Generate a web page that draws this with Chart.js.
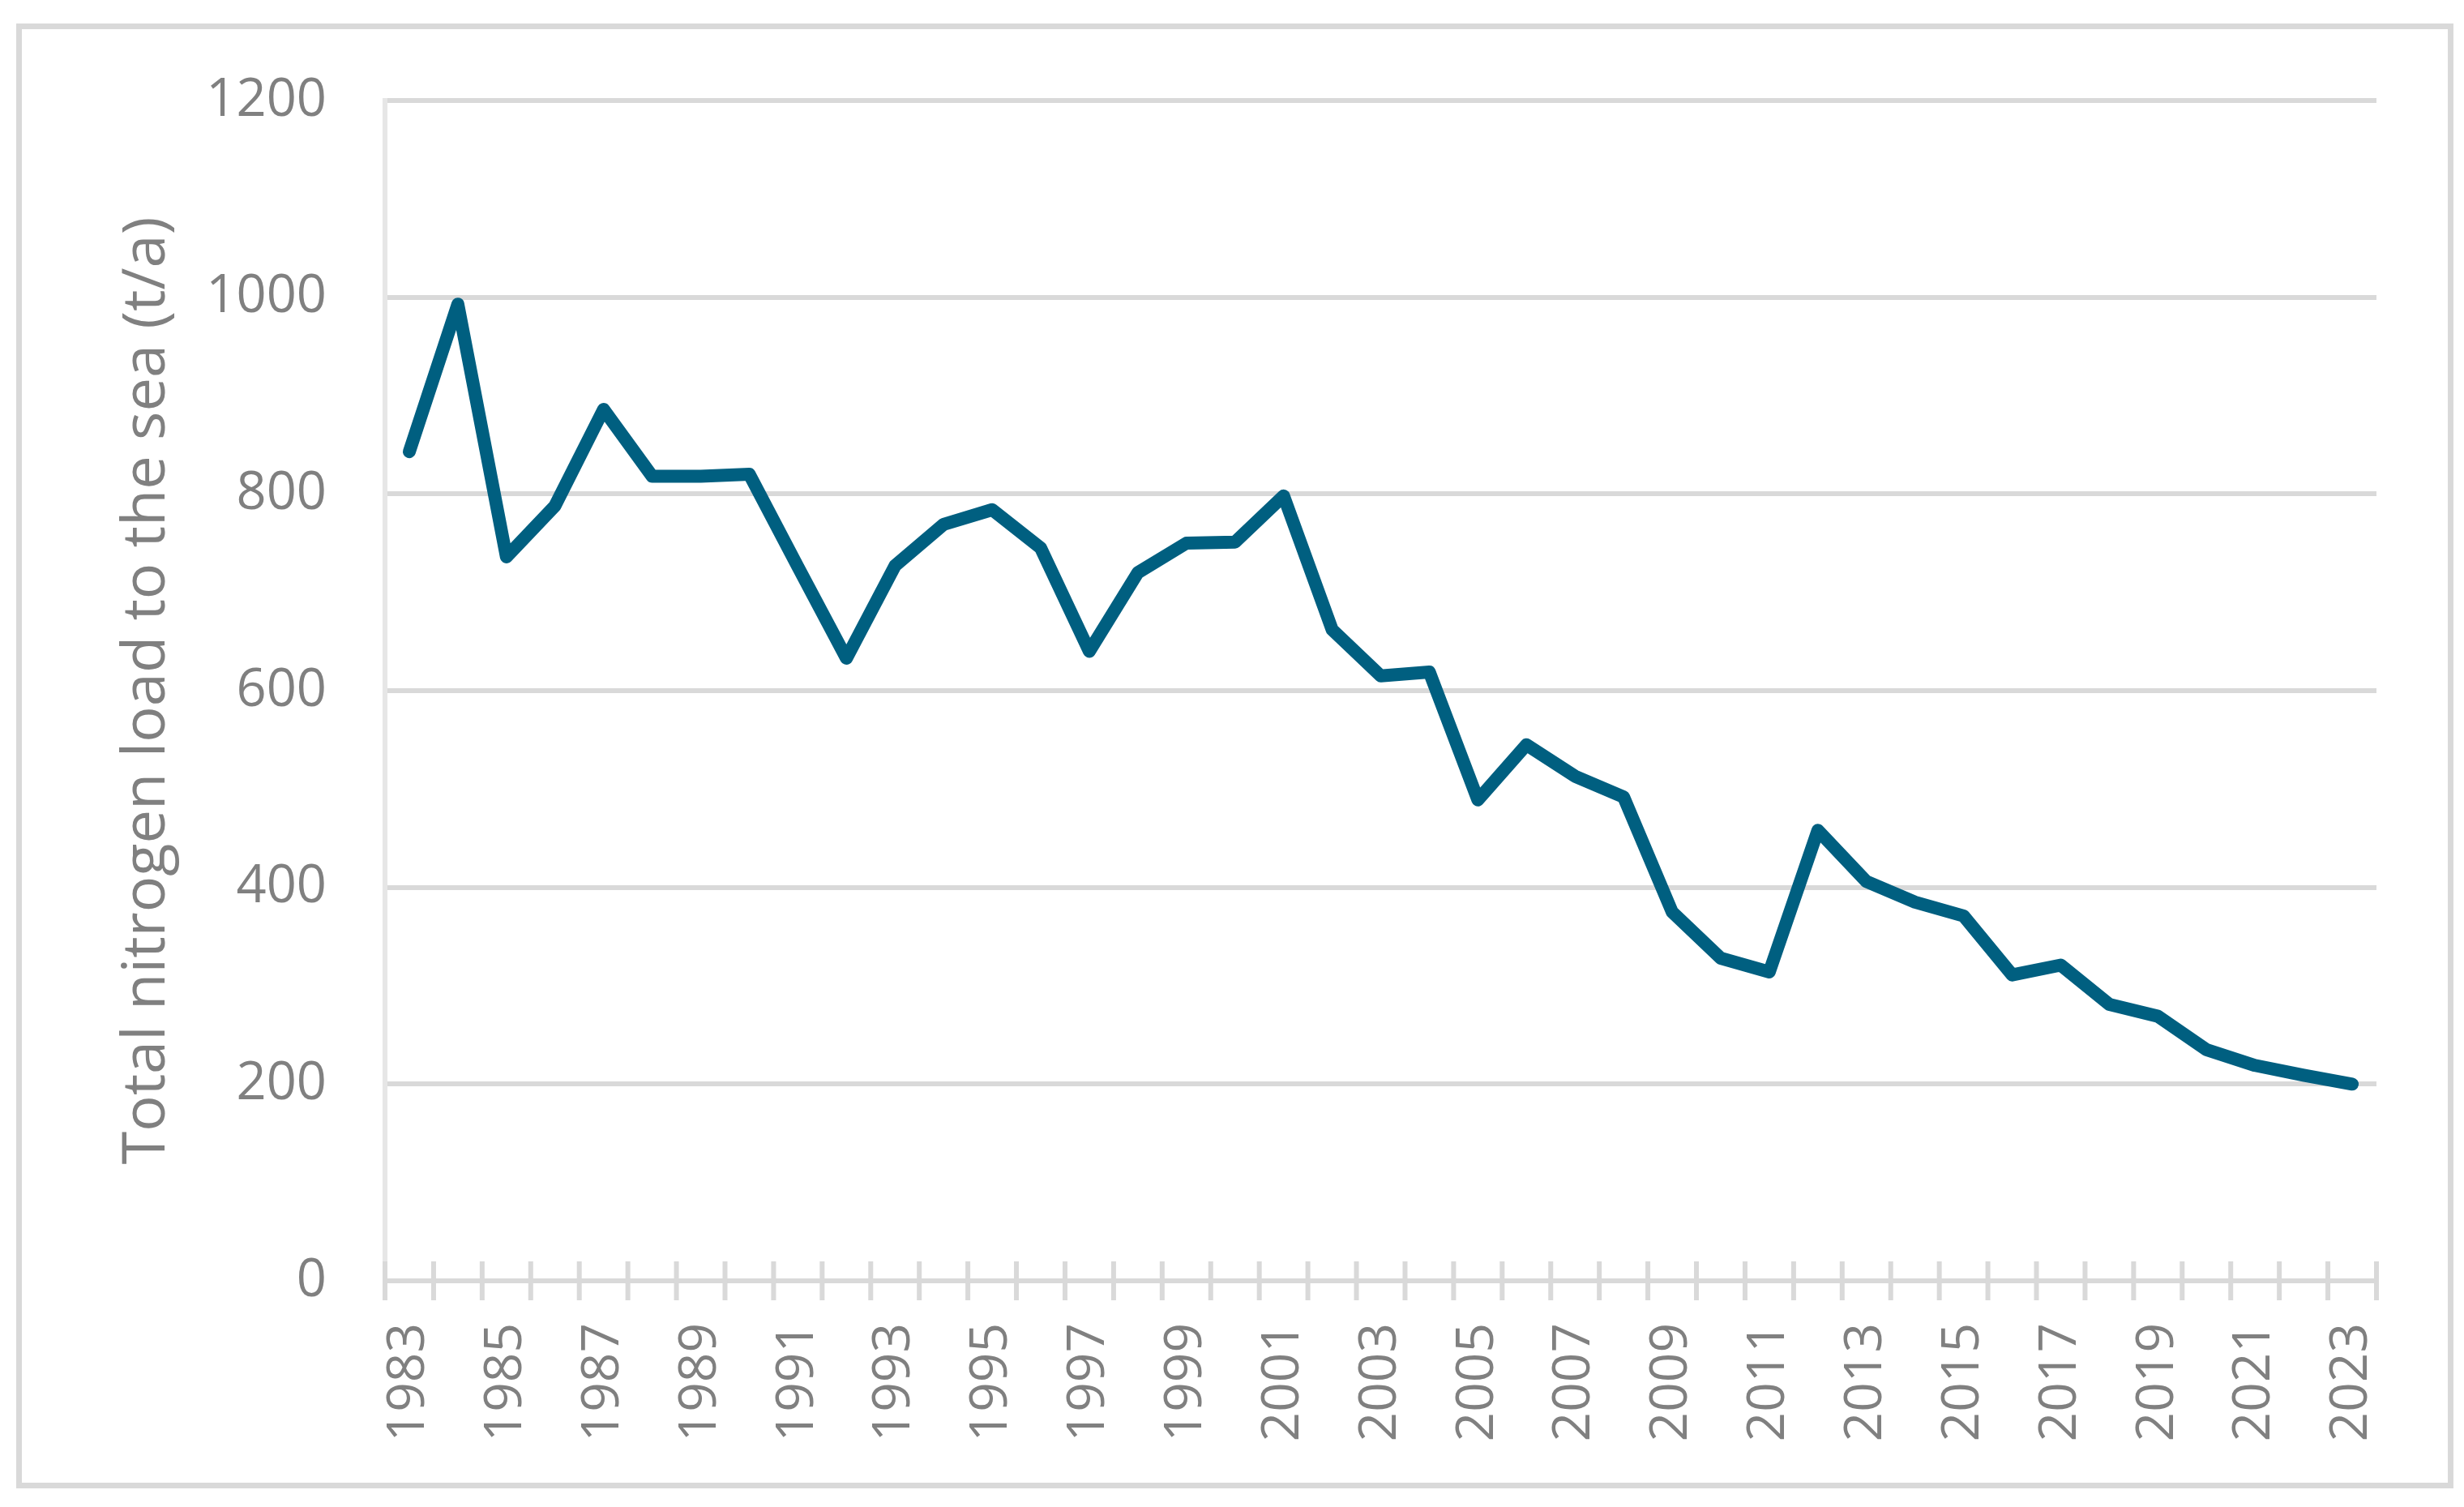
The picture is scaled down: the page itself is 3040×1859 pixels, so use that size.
<!DOCTYPE html>
<html>
<head>
<meta charset="utf-8">
<script src="https://cdn.jsdelivr.net/npm/chart.js@4.4.1/dist/chart.umd.min.js"></script>
<style>
  html, body { margin: 0; padding: 0; background: #fff; overflow: hidden; }
  canvas { display: block; }
</style>
</head>
<body>
<canvas id="myChart" width="3040" height="1859"></canvas>
<script>
const years = [
    '1983', '1984', '1985', '1986', '1987', '1988', '1989', '1990', '1991', '1992',
    '1993', '1994', '1995', '1996', '1997', '1998', '1999', '2000', '2001', '2002',
    '2003', '2004', '2005', '2006', '2007', '2008', '2009', '2010', '2011', '2012',
    '2013', '2014', '2015', '2016', '2017', '2018', '2019', '2020', '2021', '2022', '2023'
];
const nitrogenLoad = [
    843, 993, 736, 788, 886, 818, 818, 820, 726, 633,
    727, 769, 784, 745, 640, 720, 750, 751, 798, 662,
    615, 619, 489, 545, 513, 492, 375, 328, 314, 458,
    406, 385, 371, 311, 321, 281, 269, 235, 219, 209, 200
];
const yMin = 0;
const yMax = 1200;
const yStep = 200;
const yTitle = 'Total nitrogen load to the sea (t/a)';

const GREY_TEXT = '#808080';
const GRID = '#d9d9d9';
const W = 3040, H = 1859;

// outer frame round the whole chart
const framePlugin = {
    id: 'frame',
    beforeDraw(chart) {
        const ctx = chart.ctx;
        ctx.save();
        ctx.strokeStyle = GRID;
        ctx.lineWidth = 7;
        ctx.strokeRect(23.5, 32.5, 3000, 1800);
        ctx.restore();
    }
};

// Excel style "cross" tick marks between categories
const crossTicks = {
    id: 'crossTicks',
    beforeDatasetsDraw(chart) {
        const x = chart.scales.x;
        const y0 = chart.scales.y.getPixelForValue(0);
        const ctx = chart.ctx;
        ctx.save();
        ctx.strokeStyle = GRID;
        ctx.lineWidth = 6;
        for (let i = 0; i <= years.length; i++) {
            const px = x.getPixelForValue(i - 0.5);
            ctx.beginPath();
            ctx.moveTo(px, y0 - 24);
            ctx.lineTo(px, y0 + 24);
            ctx.stroke();
        }
        ctx.restore();
    }
};

Chart.defaults.font.family = "'Open Sans', 'Noto Sans', sans-serif";
Chart.defaults.color = GREY_TEXT;

let chart = new Chart(document.getElementById('myChart'), {
    type: 'line',
    data: {
        labels: years,
        datasets: [{
            data: nitrogenLoad,
            borderColor: '#005f80',
            borderWidth: 16,
            borderJoinStyle: 'round',
            borderCapStyle: 'round',
            pointRadius: 0,
            tension: 0,
            fill: false
        }]
    },
    options: {
        responsive: false,
        devicePixelRatio: 1,
        animation: false,
        layout: {
            padding: { left: 27, right: 108, top: 124, bottom: 0 }
        },
        plugins: {
            legend: { display: false },
            tooltip: { enabled: false }
        },
        scales: {
            x: {
                type: 'category',
                offset: true,
                grid: { display: false, drawTicks: false },
                border: { display: false },
                ticks: {
                    autoSkip: false,
                    minRotation: 90,
                    maxRotation: 90,
                    padding: 52,
                    font: { size: 64 },
                    color: GREY_TEXT,
                    callback: (val, i) => (i % 2 === 0 ? years[i] : '')
                },
                afterFit: (scale) => { scale.height = H - 1580; }
            },
            y: {
                min: yMin,
                max: yMax,
                grid: { color: GRID, lineWidth: 6, drawTicks: false },
                border: { display: true, color: '#e6e6e6', width: 6 },
                ticks: {
                    stepSize: yStep,
                    padding: 72,
                    font: { size: 65 },
                    color: GREY_TEXT,
                    callback: (val) => String(val)
                },
                title: {
                    display: true,
                    text: yTitle,
                    color: GREY_TEXT,
                    font: { size: 74 },
                    padding: { top: 111, bottom: 0 }
                },
                afterFit: (scale) => { scale.width = 475 - 27; }
            }
        }
    },
    plugins: [framePlugin, crossTicks]
});
console.log('Chart created:', chart.chartArea);
</script>
</body>
</html>
